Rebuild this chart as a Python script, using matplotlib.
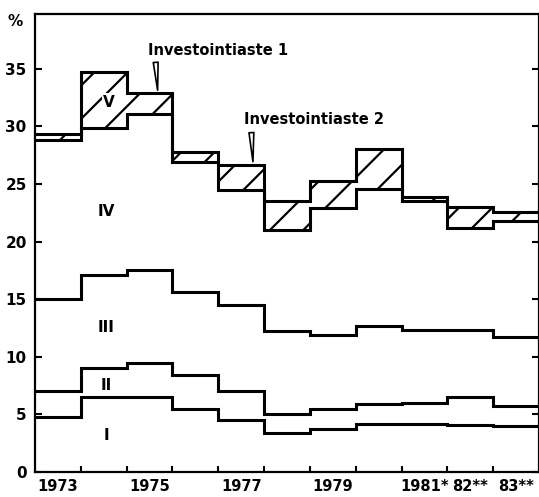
import matplotlib.pyplot as plt
import numpy as np

plt.rcParams['font.family'] = 'DejaVu Sans'
plt.rcParams['font.weight'] = 'bold'
plt.rcParams['hatch.linewidth'] = 1.6

years = np.arange(1973, 1984)
# cumulative upper edges of the components (%)
top_I   = [4.8, 6.5, 6.5, 5.5, 4.5, 3.4, 3.7, 4.2, 4.2, 4.1, 3.95]
top_II  = [7.0, 9.0, 9.45, 8.4, 7.0, 5.0, 5.5, 5.9, 6.0, 6.55, 5.75]
top_III = [15.0, 17.1, 17.5, 15.6, 14.5, 12.2, 11.85, 12.7, 12.35, 12.3, 11.75]
top_IV  = [28.8, 29.9, 31.1, 26.9, 24.45, 21.05, 22.9, 24.6, 23.5, 21.2, 21.8]
top_V   = [29.3, 34.7, 32.9, 27.8, 26.65, 23.5, 25.3, 28.0, 23.9, 23.0, 22.6]

tick_labels = ["1973", "1975", "1977", "1979", "1981*", "82**", "83**"]
label_pos = [1973.5, 1975.5, 1977.5, 1979.5, 1981.5, 1982.5, 1983.5]

fig = plt.figure(figsize=(5.39, 4.97), dpi=100)
ax = fig.add_axes([35/539, 1-472/497, 504/539, 458.5/497])

edges = np.append(years, years[-1] + 1)
lw = 2.2

# hatched band V between the two investment ratios
ax.stairs(top_V, edges, baseline=top_IV, fill=True, facecolor='white',
          edgecolor='black', hatch='/', linewidth=0)
for vals in [top_I, top_II, top_III, top_IV, top_V]:
    ax.stairs(vals, edges, baseline=None, color='black', linewidth=lw)

ax.set_xlim(1973, 1984)
ax.set_ylim(0, 39.8)

ax.set_yticks([0, 5, 10, 15, 20, 25, 30, 35])
ax.tick_params(axis='y', direction='in', length=5, width=1.5, left=True,
               right=True, labelsize=11, pad=6)
ax.set_xticks(years[1:])
ax.set_xticklabels([])
ax.tick_params(axis='x', which='major', direction='in', length=4, width=1.5)
ax.set_xticks(label_pos, minor=True)
ax.set_xticklabels(tick_labels, minor=True)
ax.tick_params(axis='x', which='minor', length=0, labelsize=10.5, pad=5)

for sp in ax.spines.values():
    sp.set_linewidth(1.6)

# component labels
ax.text(1974.62, 32.1, "V", ha='center', va='center', fontsize=11,
        fontweight='bold', bbox=dict(fc='white', ec='none', pad=1))
for txt, x, y in [("IV", 1974.55, 22.6), ("III", 1974.55, 12.5),
                  ("II", 1974.55, 7.5), ("I", 1974.55, 3.2)]:
    ax.text(x, y, txt, ha='center', va='center', fontsize=11, fontweight='bold')

ax.text(1976.99, 36.6, "Investointiaste 1", ha='center', va='center',
        fontsize=10.5, fontweight='bold')
ax.text(1979.08, 30.6, "Investointiaste 2", ha='center', va='center',
        fontsize=10.5, fontweight='bold')
ax.annotate('', xy=(1975.68, 32.9), xytext=(1975.63, 35.8),
            arrowprops=dict(arrowstyle='wedge,tail_width=0.35',
                            fc='white', ec='black', lw=1.2))
ax.annotate('', xy=(1977.76, 26.7), xytext=(1977.72, 29.7),
            arrowprops=dict(arrowstyle='wedge,tail_width=0.35',
                            fc='white', ec='black', lw=1.2))

fig.text(15/539, 1-22/497, "%", ha='center', va='center', fontsize=11,
         fontweight='bold')

plt.savefig("out.png", dpi=100)
